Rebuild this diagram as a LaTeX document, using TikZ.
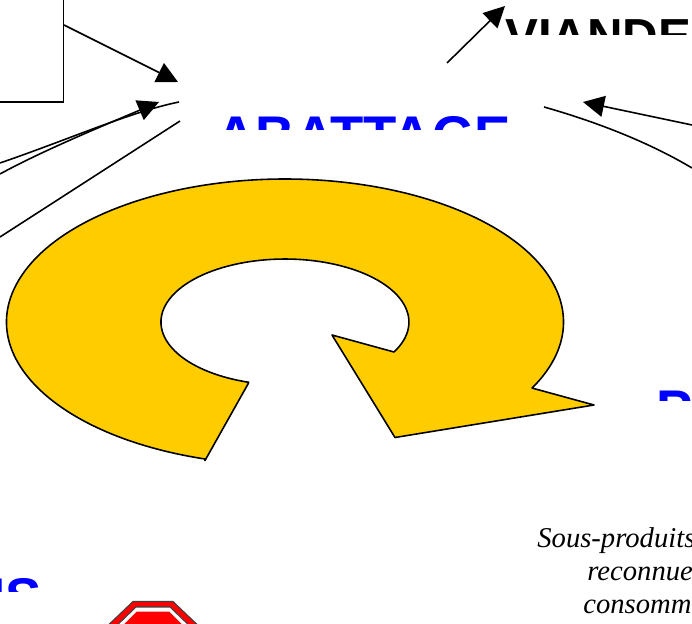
\documentclass[tikz,border=0pt]{standalone}
\usepackage{fontspec}
\setmainfont{Liberation Serif}
\newfontfamily\headfont{Liberation Sans}
\usetikzlibrary{arrows.meta}
\definecolor{loopyellow}{RGB}{255,204,0}
\definecolor{headblue}{RGB}{0,0,255}
\tikzset{
  headline/.style={font=\headfont\bfseries\fontsize{31}{36}\selectfont,inner sep=0pt,anchor=base west},
  meatline/.style={font=\headfont\bfseries\fontsize{28}{32}\selectfont,inner sep=0pt,anchor=base west},
  noteline/.style={font=\itshape\fontsize{16.3}{19}\selectfont,inner sep=0pt,anchor=base west},
  link/.style={line width=0.9pt},
  linkarrow/.style={link,-{Triangle[length=12pt,width=12pt]}},
  stopline/.style={line width=0.6pt,draw=black!75}
}
\begin{document}
\begin{tikzpicture}[x=0.02cm,y=0.02cm]
  \clip (0,0) rectangle (692,-624);
  \fill[white] (0,0) rectangle (692,-624);
  % box at top left
  \draw[link] (-20,-102) rectangle (63.5,20);
  % clipped headings
  \begin{scope}
    \clip (0,0) rectangle (692,-130);
    \node[headline,text=headblue] (abattage) at (216,-155) {ABATTAGE};
  \end{scope}
  \begin{scope}
    \clip (0,0) rectangle (692,-35);
    \node[meatline,text=black] (viande) at (505,-54) {VIANDE};
  \end{scope}
  \begin{scope}
    \clip (0,-380) rectangle (692,-400);
    \node[headline,text=headblue] (partb) at (656,-428) {P};
  \end{scope}
  \begin{scope}
    \clip (0,-570) rectangle (692,-591.5);
    \node[headline,text=headblue] (ends) at (-34,-616) {NS};
  \end{scope}
  % free ends of the connectors
  \coordinate (boxout) at (64,-25);
  \coordinate (boxin) at (178,-82);
  \coordinate (leftA) at (0,-163);
  \coordinate (leftAend) at (179,-102);
  \coordinate (leftB) at (0,-174);
  \coordinate (leftBend) at (159,-102);
  \coordinate (leftC) at (0,-237);
  \coordinate (leftCend) at (180,-121);
  \coordinate (meatout) at (447,-63);
  \coordinate (meatin) at (505,-6);
  \coordinate (rightA) at (692,-125);
  \coordinate (rightAend) at (583,-102);
  \coordinate (rightB) at (544,-107);
  \coordinate (rightBend) at (692,-168);
  % connectors
  \draw[linkarrow] (boxout) -- (boxin);
  \draw[link] (leftA) .. controls (70,-139) and (130,-112) .. (leftAend);
  \draw[linkarrow] (leftB) .. controls (40,-152) and (100,-127) .. (leftBend);
  \draw[link] (leftC) -- (leftCend);
  \draw[linkarrow] (meatout) -- (meatin);
  \draw[linkarrow] (rightA) -- (rightAend);
  \draw[link] (rightB) .. controls (590,-120) and (645,-140) .. (rightBend);
  % curved block arrow
  \draw[link,fill=loopyellow,line join=round] (205,-460.5) -- (205,-459)
    arc [start angle=253.3,end angle=-27.5,x radius=278.5,y radius=143]
    -- (594,-405) -- (395,-437.5) -- (332,-335) -- (394,-352)
    arc [start angle=-28.4,end angle=253,x radius=124,y radius=63]
    -- (248,-384) -- cycle;
  % note at the right
  \node[noteline] (notea) at (537,-547) {Sous-produits};
  \node[noteline] (noteb) at (587,-580) {reconnue};
  \node[noteline] (notec) at (583,-613) {consomm};
  % stop sign
  \draw[stopline,fill=red] (133,-601.5) -- (173,-601.5) -- (205,-632) -- (101,-632) -- cycle;
  \draw[stopline,fill=white] (136,-607) -- (170,-607) -- (199,-635) -- (107,-635) -- cycle;
  \fill[red] (137,-611.5) -- (169,-611.5) -- (195,-637) -- (111,-637) -- cycle;
\end{tikzpicture}
\end{document}
